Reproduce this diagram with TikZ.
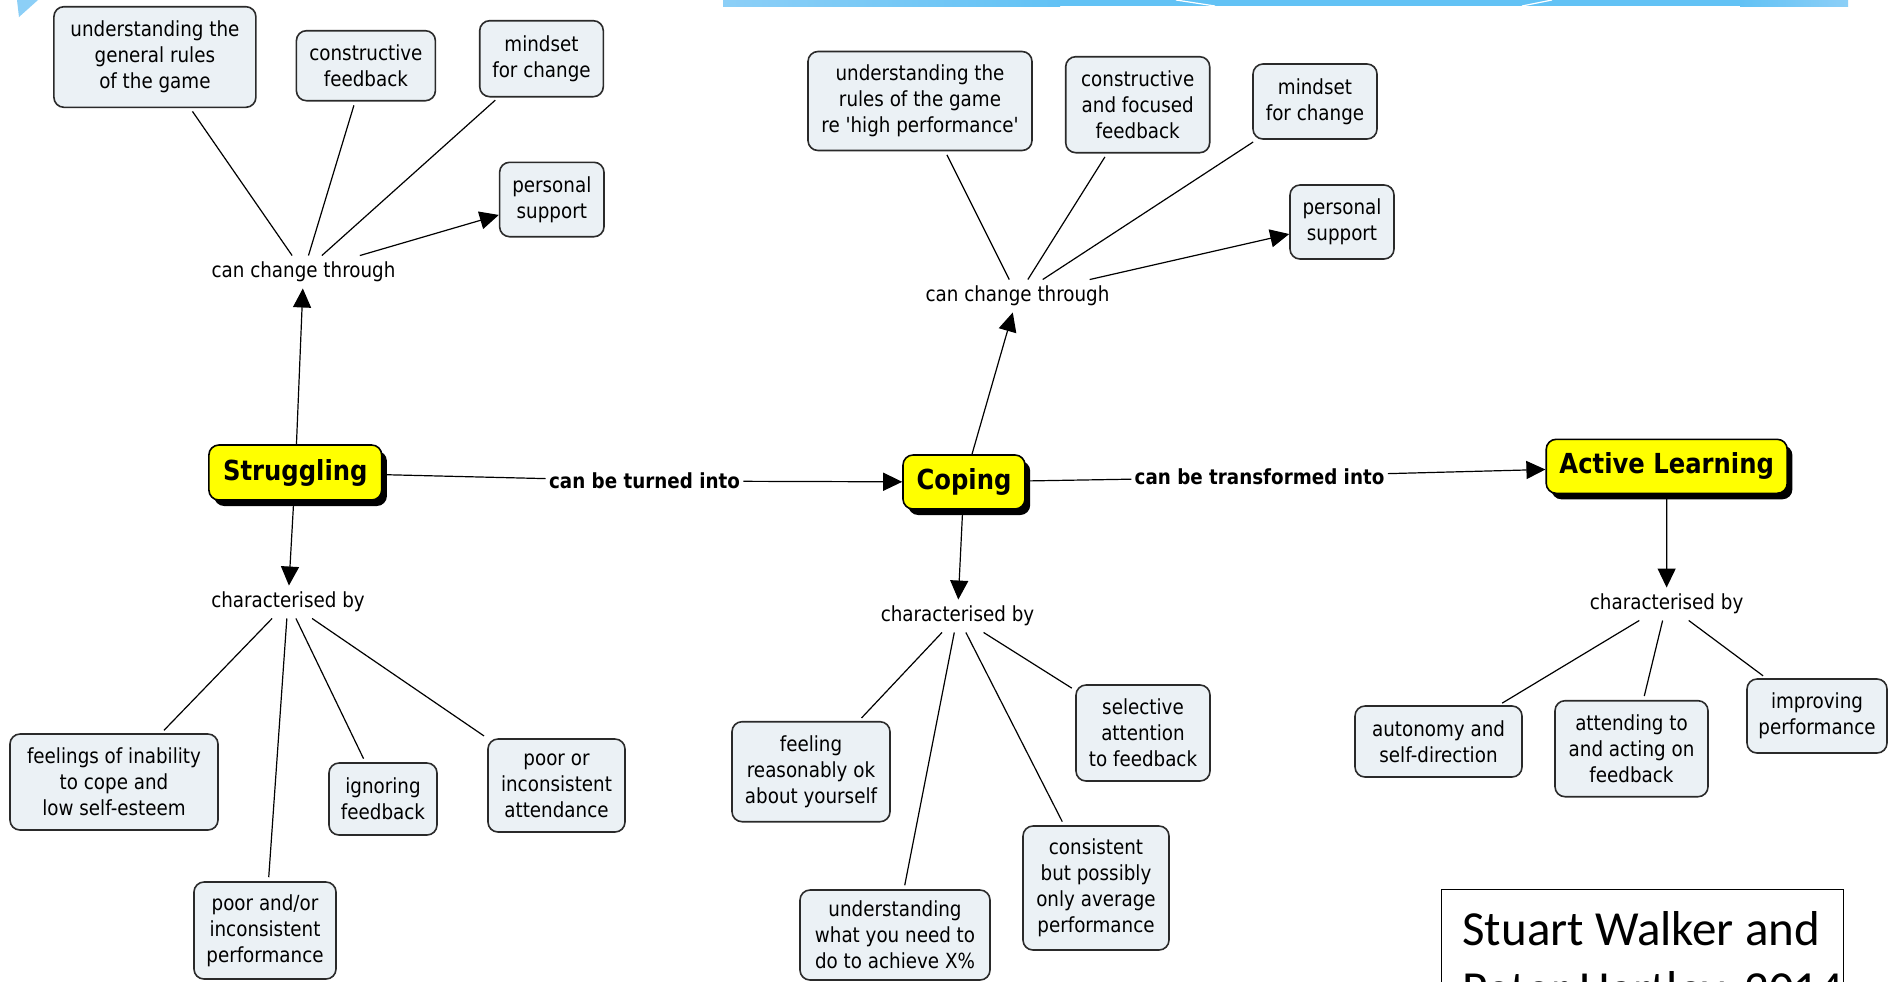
\documentclass[tikz,border=0pt]{standalone}
\usepackage{fontspec}
\setmainfont{DejaVu Sans}[FakeStretch=0.88, Ligatures=TeXOff]
\newfontfamily\creditfont{Carlito}
\usetikzlibrary{arrows.meta,shadows}
\definecolor{boxfill}{HTML}{EBF1F5}
\definecolor{boxdraw}{HTML}{2A2A2A}
\definecolor{yel}{HTML}{FFFF00}
\definecolor{bandlight}{HTML}{8CCFF7}
\definecolor{banddark}{HTML}{62C2F5}
\begin{document}
\begin{tikzpicture}[x=0.5pt,y=-0.5pt,
  idea/.style={draw=boxdraw, line width=0.8pt, fill=boxfill, rounded corners=5pt,
    align=center, font=\fontsize{10.4pt}{13pt}\selectfont, inner sep=1pt},
  conceptbox/.style={draw=black, line width=0.8pt, fill=yel, rounded corners=5pt,
    font=\fontsize{13.8pt}{16pt}\selectfont\bfseries, inner sep=1pt,
    drop shadow={shadow xshift=2.6pt, shadow yshift=-3pt, fill=black, opacity=1}},
  lbl/.style={font=\fontsize{10.4pt}{13pt}\selectfont, inner sep=3pt},
  edgelbl/.style={font=\fontsize{10.4pt}{13pt}\selectfont\bfseries, inner sep=1.5pt},
  conn/.style={draw=black, line width=0.6pt},
  arr/.style={conn, -{Triangle[length=9.5pt,width=9pt]}}
]
\useasboundingbox (0,0) rectangle (1888,981);
\clip (0,0) rectangle (1888,981);
\fill[white] (0,0) rectangle (1888,981);

% top decorative band
\fill[bandlight] (17,0) -- (38,0) -- (19,17) -- cycle;
\shade[left color=bandlight, right color=banddark] (723,0) rectangle (1060,6);
\fill[banddark] (1059,0) rectangle (1741,6);
\shade[left color=banddark, right color=bandlight] (1740,0) rectangle (1848,6);
\draw[white, line width=0.6pt] (1176,0) -- (1215,6);
\draw[white, line width=0.6pt] (1522,6) -- (1552,0);

% main concepts
\node[conceptbox, minimum width=86.4pt, minimum height=27.5pt] (strug) at (295.3,472.5) {Struggling};
\node[conceptbox, minimum width=61pt, minimum height=27pt] (coping) at (964,482) {Coping};
\node[conceptbox, minimum width=120.5pt, minimum height=27pt] (active) at (1666.7,466.3) {Active Learning};

% linking phrases
\node[lbl] (chL) at (303.5,272) {can change through};
\node[lbl] (byL) at (288,602) {characterised by};
\node[lbl] (chM) at (1017.5,296) {can change through};
\node[lbl] (byM) at (957.5,616) {characterised by};
\node[lbl] (byR) at (1666.6,604) {characterised by};
\node[edgelbl] (turned) at (644.5,481) {can be turned into};
\node[edgelbl] (transf) at (1259.5,477) {can be transformed into};

% left upper boxes
\node[idea, minimum width=101pt, minimum height=50.3pt] (a1) at (154.9,57) {understanding the\\general rules\\of the game};
\node[idea, minimum width=69.5pt, minimum height=35pt] (a2) at (365.9,65.7) {constructive\\feedback};
\node[idea, minimum width=61.8pt, minimum height=38pt] (a3) at (541.5,58.7) {mindset\\for change};
\node[idea, minimum width=52.2pt, minimum height=37.2pt] (a4) at (551.8,199.5) {personal\\support};

% left lower boxes
\node[idea, minimum width=104pt, minimum height=48pt] (b1) at (114,782) {feelings of inability\\to cope and\\low self-esteem};
\node[idea, minimum width=71pt, minimum height=48.5pt] (b2) at (265,930.5) {poor and/or\\inconsistent\\performance};
\node[idea, minimum width=54pt, minimum height=36pt] (b3) at (383,799) {ignoring\\feedback};
\node[idea, minimum width=68.5pt, minimum height=46.5pt] (b4) at (556.5,785.5) {poor or\\inconsistent\\attendance};

% middle upper boxes
\node[idea, minimum width=112pt, minimum height=49.5pt] (c1) at (920,101) {understanding the\\rules of the game\\re 'high performance'};
\node[idea, minimum width=72pt, minimum height=48pt] (c2) at (1137.7,104.7) {constructive\\and focused\\feedback};
\node[idea, minimum width=62pt, minimum height=37.5pt] (c3) at (1315,101.5) {mindset\\for change};
\node[idea, minimum width=52pt, minimum height=37pt] (c4) at (1342,222) {personal\\support};

% middle lower boxes
\node[idea, minimum width=79pt, minimum height=50pt] (d1) at (811,771.7) {feeling\\reasonably ok\\about yourself};
\node[idea, minimum width=95pt, minimum height=45pt] (d2) at (895,935) {understanding\\what you need to\\do to achieve X\%};
\node[idea, minimum width=73pt, minimum height=62pt] (d3) at (1096,888) {consistent\\but possibly\\only average\\performance};
\node[idea, minimum width=67pt, minimum height=48pt] (d4) at (1143,733) {selective\\attention\\to feedback};

% right boxes
\node[idea, minimum width=83.5pt, minimum height=35.5pt] (e1) at (1438.5,741.5) {autonomy and\\self-direction};
\node[idea, minimum width=76.5pt, minimum height=48pt] (e2) at (1631.5,748.7) {attending to\\and acting on\\feedback};
\node[idea, minimum width=70pt, minimum height=37pt] (e3) at (1817,716) {improving\\performance};

% connectors: main chain
\draw[conn] (strug) -- (turned);
\draw[arr] (turned) -- (coping);
\draw[conn] (coping) -- (transf);
\draw[arr] (transf) -- (active);

% Struggling
\draw[arr] (strug) -- (chL);
\draw[conn, shorten >=2pt] (chL) -- (a1);
\draw[conn, shorten >=2pt] (chL) -- (a2);
\draw[conn, shorten >=2pt] (chL) -- (a3);
\draw[arr] (chL) -- (a4);
\draw[arr] (strug) -- (byL);
\draw[conn, shorten >=2pt] (byL) -- (b1);
\draw[conn, shorten >=2pt] (byL) -- (b2);
\draw[conn, shorten >=2pt] (byL) -- (b3);
\draw[conn, shorten >=2pt] (byL) -- (b4);

% Coping
\draw[arr] (coping) -- (chM);
\draw[conn, shorten >=2pt] (chM) -- (c1);
\draw[conn, shorten >=2pt] (chM) -- (c2);
\draw[conn, shorten >=2pt] (chM) -- (c3);
\draw[arr] (chM) -- (c4);
\draw[arr] (coping) -- (byM);
\draw[conn, shorten >=2pt] (byM) -- (d1);
\draw[conn, shorten >=2pt] (byM) -- (d2);
\draw[conn, shorten >=2pt] (byM) -- (d3);
\draw[conn, shorten >=2pt] (byM) -- (d4);

% Active Learning
\draw[arr] (active) -- (byR);
\draw[conn, shorten >=2pt] (byR) -- (e1);
\draw[conn, shorten >=2pt] (byR) -- (e2);
\draw[conn, shorten >=2pt] (byR) -- (e3);

% credit box
\node[draw=black, line width=0.6pt, anchor=north west, minimum width=201pt, minimum height=80pt, inner sep=0pt] (credit) at (1441,889) {};
\node[anchor=base west, inner sep=0pt, font=\creditfont\fontsize{24.5pt}{30pt}\selectfont] (credit1) at (1462,945) {Stuart Walker and};
\node[anchor=base west, inner sep=0pt, font=\creditfont\fontsize{24.5pt}{30pt}\selectfont] (credit2) at (1462,1005) {Peter Hartley, 2014};
\end{tikzpicture}
\end{document}
